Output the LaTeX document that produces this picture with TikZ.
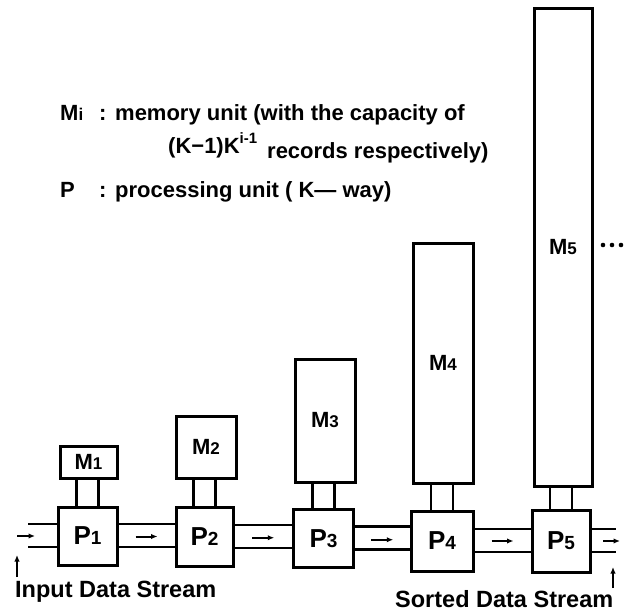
\documentclass[tikz,border=0pt]{standalone}
\usepackage{fontspec}
\setmainfont{Liberation Sans}
\usetikzlibrary{calc,arrows.meta}
\newcommand\msub[1]{{\fontsize{17}{17}\selectfont #1}}
\newcommand\psub[1]{{\fontsize{19}{19}\selectfont #1}}
\begin{document}
\begin{tikzpicture}[x=1pt,y=-1pt,
 box/.style={draw,line width=3pt,inner sep=0pt,font=\fontsize{22}{22}\selectfont\bfseries},
 pbox/.style={box,font=\fontsize{26}{26}\selectfont\bfseries},
 wire/.style={line width=2.5pt},
 flow/.style={line width=2pt,-{Latex[length=6.5pt,width=5.5pt]}},
 txt/.style={inner sep=0pt,anchor=base west,font=\fontsize{22}{22}\selectfont\bfseries},
]
\useasboundingbox (0,0) rectangle (629,611);

% legend text
\node[txt] (l1m) at (60,120) {M\msub{i}};
\node[txt] (l1c) at (99,120) {:};
\node[txt] (l1t) at (115,120) {memory unit (with the capacity of};
\node[txt] (l2a) at (168,153) {(K−1)K\raisebox{10pt}{\fontsize{15}{15}\selectfont i-1}};
\node[txt] (l2b) at (267,158) {records respectively)};
\node[txt] (l3p) at (60,197) {P};
\node[txt] (l3c) at (99,197) {:};
\node[txt] (l3t) at (115,197) {processing unit ( K— way)};

% processing units
\node[pbox,minimum width=59pt,minimum height=58pt] (P1) at (87.5,536) {P\psub{1}};
\node[pbox,minimum width=57pt,minimum height=59pt] (P2) at (204.5,537) {P\psub{2}};
\node[pbox,minimum width=60pt,minimum height=58pt] (P3) at (323.5,538.5) {P\psub{3}};
\node[pbox,minimum width=62pt,minimum height=60pt] (P4) at (442,541) {P\psub{4}};
\node[pbox,minimum width=58pt,minimum height=62pt] (P5) at (561,541) {P\psub{5}};

% memory units
\node[box,minimum width=57pt,minimum height=32pt] (M1) at (88.5,462) {M\msub{1}};
\node[box,minimum width=60pt,minimum height=62pt] (M2) at (206,447) {M\msub{2}};
\node[box,minimum width=60pt,minimum height=123pt] (M3) at (325,420.5) {M\msub{3}};
\node[box,minimum width=60pt,minimum height=240pt] (M4) at (443,363) {M\msub{4}};
\node[box,minimum width=58pt,minimum height=478pt] (M5) at (563,247) {M\msub{5}};

% dots
\fill (603,245) circle[radius=2.3pt] (612,245) circle[radius=2.3pt] (621,245) circle[radius=2.3pt];

% P-M connections
\foreach \i in {1,...,5}{
  \draw[wire] ([xshift=-11pt]P\i.north) -- ([xshift=-11pt]P\i.north |- M\i.south);
  \draw[wire] ([xshift=11pt]P\i.north) -- ([xshift=11pt]P\i.north |- M\i.south);
}

% channels between P units
\foreach \i/\j in {1/2,2/3,3/4,4/5}{
  \draw[wire] ([yshift=12pt]P\i.east) -- ([yshift=12pt]P\i.east -| P\j.west);
  \draw[wire] ([yshift=-11pt]P\i.east) -- ([yshift=-11pt]P\i.east -| P\j.west);
  \coordinate (a\i) at ($(P\i.east)!0.5!(P\j.west)$);
  \draw[flow] ([xshift=-11pt]a\i) -- ([xshift=11pt]a\i);
}

% input side
\coordinate (inU) at (28,524);
\coordinate (inD) at (28,547);
\draw[wire] (inU) -- (inU -| P1.west);
\draw[wire] (inD) -- (inD -| P1.west);
\coordinate (inA) at (17,536);
\coordinate (inB) at (35,536);
\draw[flow] (inA) -- (inB);
\coordinate (upA) at (17,577);
\coordinate (upB) at (17,555);
\draw[flow] (upA) -- (upB);
\node[txt,font=\fontsize{23.5}{23.5}\selectfont\bfseries] (inT) at (15,597) {Input Data Stream};

% output side
\coordinate (outU) at (616,529);
\coordinate (outD) at (616,552);
\draw[wire] (outU -| P5.east) -- (outU);
\draw[wire] (outD -| P5.east) -- (outD);
\coordinate (outA) at (603,541);
\coordinate (outB) at (620,541);
\draw[flow] (outA) -- (outB);
\coordinate (dnA) at (613,588);
\coordinate (dnB) at (613,567);
\draw[flow] (dnA) -- (dnB);
\node[txt,font=\fontsize{23.5}{23.5}\selectfont\bfseries] (outT) at (395,607) {Sorted Data Stream};
\end{tikzpicture}
\end{document}
